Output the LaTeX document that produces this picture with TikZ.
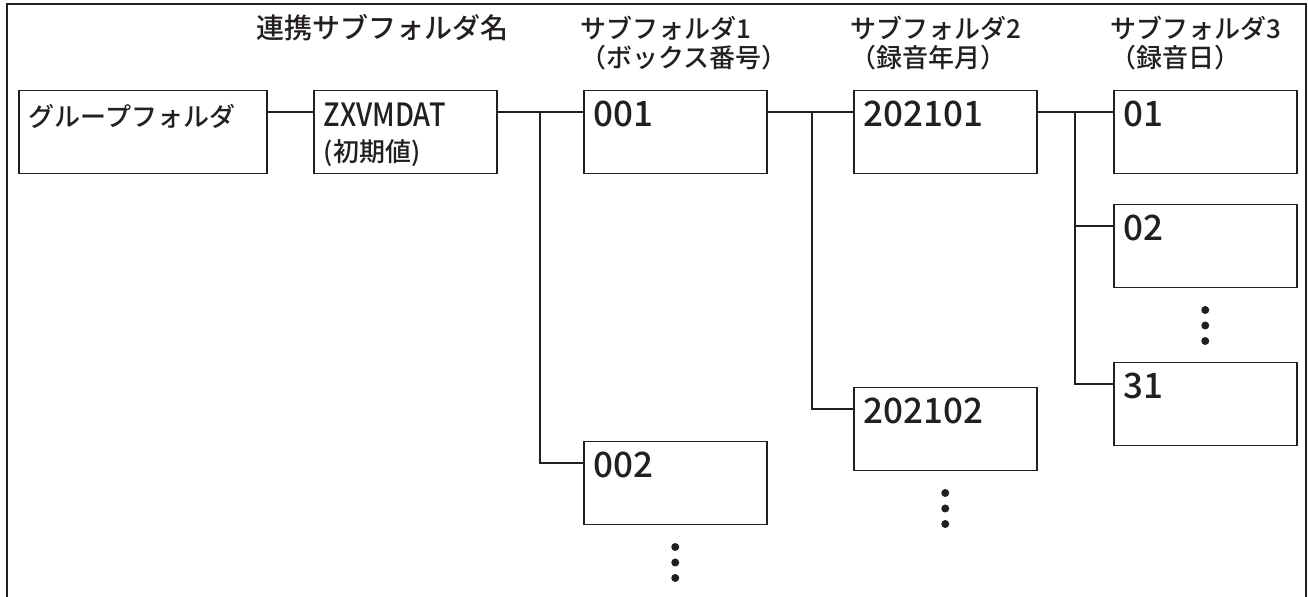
\documentclass[tikz,border=0pt]{standalone}
\usepackage{fontspec}
\setmainfont{Noto Sans CJK JP Medium}
\definecolor{ink}{RGB}{35,31,32}
\newcommand{\bignum}[1]{{\fontsize{17.5}{17.5}\selectfont #1}}
\newcommand{\bigword}[1]{\scalebox{0.85}[1]{\fontsize{16}{17.5}\selectfont #1}}
\tikzset{
        folder/.style={draw=ink, line width=0.75pt, anchor=north west, align=left,
                inner xsep=5pt, inner ysep=0pt, text width=81.5pt,
                text height=17.75pt, text depth=23.75pt,
                font=\fontsize{13}{17.5}\selectfont},
        head/.style={anchor=base west, align=left, inner sep=0pt,
                font=\fontsize{13}{14.5}\selectfont},
        link/.style={draw=ink, line width=0.75pt},
}
\begin{document}
\begin{tikzpicture}[x=1pt, y=-1pt, text=ink]
        \useasboundingbox (0,0) rectangle (654,298.5);
        \draw[ink, line width=1pt] (3.25,298.5) -- (3.25,2) -- (653,2) -- (653,298.5);
        \node[folder, text width=114pt] (grp) at (9,45) {グループフォルダ};
        \node[folder] (zx) at (156.5,45) {\bigword{ZXVMDAT}\\(初期値)};
        \node[folder] (b001) at (291.5,45) {\bignum{001}};
        \node[folder] (b002) at (291.5,220.5) {\bignum{002}};
        \node[folder] (b202101) at (426.5,45) {\bignum{202101}};
        \node[folder] (b202102) at (426.5,193.5) {\bignum{202102}};
        \node[folder] (b01) at (556.5,45) {\bignum{01}};
        \node[folder] (b02) at (556.5,102) {\bignum{02}};
        \node[folder] (b31) at (556.5,181) {\bignum{31}};
        \node[head, font=\fontsize{14}{14.5}\selectfont] (hzx) at (128,19.5) {連携サブフォルダ名};
        \node[head] (h1) at ([xshift=-1.5pt,yshift=11pt]b001.north west) {サブフォルダ1\\（ボックス番号）};
        \node[head] (h2) at ([xshift=-1.5pt,yshift=11pt]b202101.north west) {サブフォルダ2\\（録音年月）};
        \node[head] (h3) at ([xshift=-1.5pt,yshift=11pt]b01.north west) {サブフォルダ3\\（録音日）};
        \draw[link] ([yshift=-11pt]grp.north east) -- ([yshift=-11pt]zx.north west);
        \draw[link] ([yshift=-11pt]zx.north east) -- ([yshift=-11pt]b001.north west);
        \draw[link] ([yshift=-11pt]b002.north west) -| ([xshift=-21.5pt,yshift=-11pt]b001.north west);
        \draw[link] ([yshift=-11pt]b001.north east) -- ([yshift=-11pt]b202101.north west);
        \draw[link] ([yshift=-11pt]b202102.north west) -| ([xshift=-20.5pt,yshift=-11pt]b202101.north west);
        \draw[link] ([yshift=-11pt]b202101.north east) -- ([yshift=-11pt]b01.north west);
        \draw[link] ([yshift=-11pt]b31.north west) -| ([xshift=-19pt,yshift=-11pt]b01.north west);
        \draw[link] ([yshift=-11pt]b02.north west) -- ++(-19pt,0);
        \foreach \b in {b002,b202102,b02}
                \foreach \k in {0,1,2}
                        \fill[ink] ([yshift={-10.75pt-7.75pt*\k}]\b.south) circle (2pt);
\end{tikzpicture}
\end{document}
